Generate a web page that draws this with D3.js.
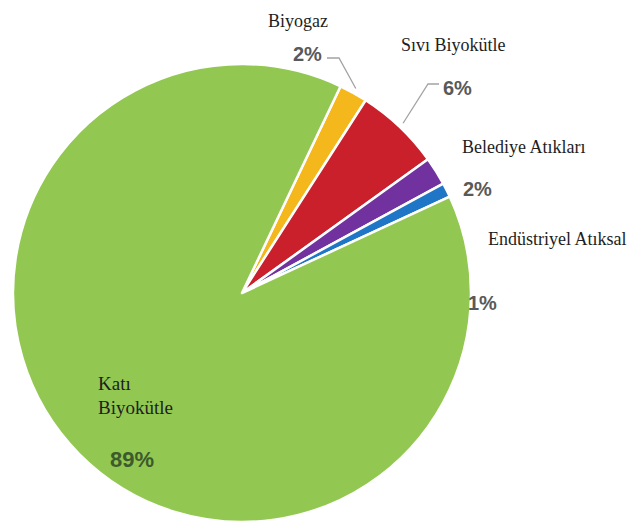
<!DOCTYPE html>
<html>
<head>
<meta charset="utf-8">
<script src="https://cdn.jsdelivr.net/npm/d3@7/dist/d3.min.js"></script>
<style>
  html, body { margin: 0; padding: 0; background: #fff; }
  svg { display: block; }
</style>
</head>
<body>
<script>
// Biomass energy sources, share of total (%)
const categories = ["Biyogaz", "Sıvı Biyokütle", "Belediye Atıkları", "Endüstriyel Atıksal", "Katı Biyokütle"];
const values = [2, 6, 2, 1, 89];
const percentLabels = ["2%", "6%", "2%", "1%", "89%"];
const colors = ["#f4b81c", "#c9202b", "#7132a0", "#1f76c6", "#92c851"];

const W = 638, H = 525;
const cx = 242, cy = 293, R = 229;

// label layout: name anchor, percent anchor, optional leader elbow
const layout = [
  { name: [[268, 27]], pct: [293, 61], elbow: [[339, 58], [327, 58]] },
  { name: [[401, 51]], pct: [443, 95], elbow: [[428, 84], [439, 84]] },
  { name: [[462, 153]], pct: [463, 196] },
  { name: [[488, 245]], pct: [468, 310] },
  { name: [[98, 390], [98, 414]], lines: ["Katı", "Biyokütle"], pct: [110, 467], pctFill: "#3d5a2c", pctSize: 22 }
];

const svg = d3.select("body").append("svg")
  .attr("width", W).attr("height", H);

const data = categories.map((c, i) => ({ cat: c, value: values[i], pct: percentLabels[i], color: colors[i], lay: layout[i] }));

const start = 0.445;
const pie = d3.pie().sort(null).value(d => d.value)
  .startAngle(start).endAngle(start + 2 * Math.PI);
const arc = d3.arc().innerRadius(0).outerRadius(R);

const g = svg.append("g").attr("transform", `translate(${cx},${cy})`);
const arcs = pie(data);

g.selectAll("path.slice").data(arcs).join("path")
  .attr("class", "slice")
  .attr("d", arc)
  .attr("fill", d => d.data.color)
  .attr("stroke", "#fff")
  .attr("stroke-width", 2.5)
  .attr("stroke-linejoin", "round");

// leader lines from the slice rim to the percent labels
arcs.forEach(a => {
  const lay = a.data.lay;
  if (!lay.elbow) return;
  const mid = (a.startAngle + a.endAngle) / 2;
  const p0 = [cx + Math.sin(mid) * (R + 5), cy - Math.cos(mid) * (R + 5)];
  const pts = [p0].concat(lay.elbow);
  svg.append("path")
    .attr("d", d3.line()(pts))
    .attr("fill", "none")
    .attr("stroke", "#a3a3a3")
    .attr("stroke-width", 1.3);
});

// category names
arcs.forEach(a => {
  const lay = a.data.lay;
  const lines = lay.lines || [a.data.cat];
  lines.forEach((t, k) => {
    svg.append("text")
      .attr("x", lay.name[k][0]).attr("y", lay.name[k][1])
      .attr("font-family", "'Liberation Serif', 'Times New Roman', serif")
      .attr("font-size", lay.lines ? 19 : 18)
      .attr("fill", "#1e1e1e")
      .text(t);
  });
  svg.append("text")
    .attr("x", lay.pct[0]).attr("y", lay.pct[1])
    .attr("font-family", "'Liberation Sans', Arial, sans-serif")
    .attr("font-weight", "bold")
    .attr("font-size", lay.pctSize || 20)
    .attr("fill", lay.pctFill || "#595959")
    .text(a.data.pct);
});
</script>
</body>
</html>
